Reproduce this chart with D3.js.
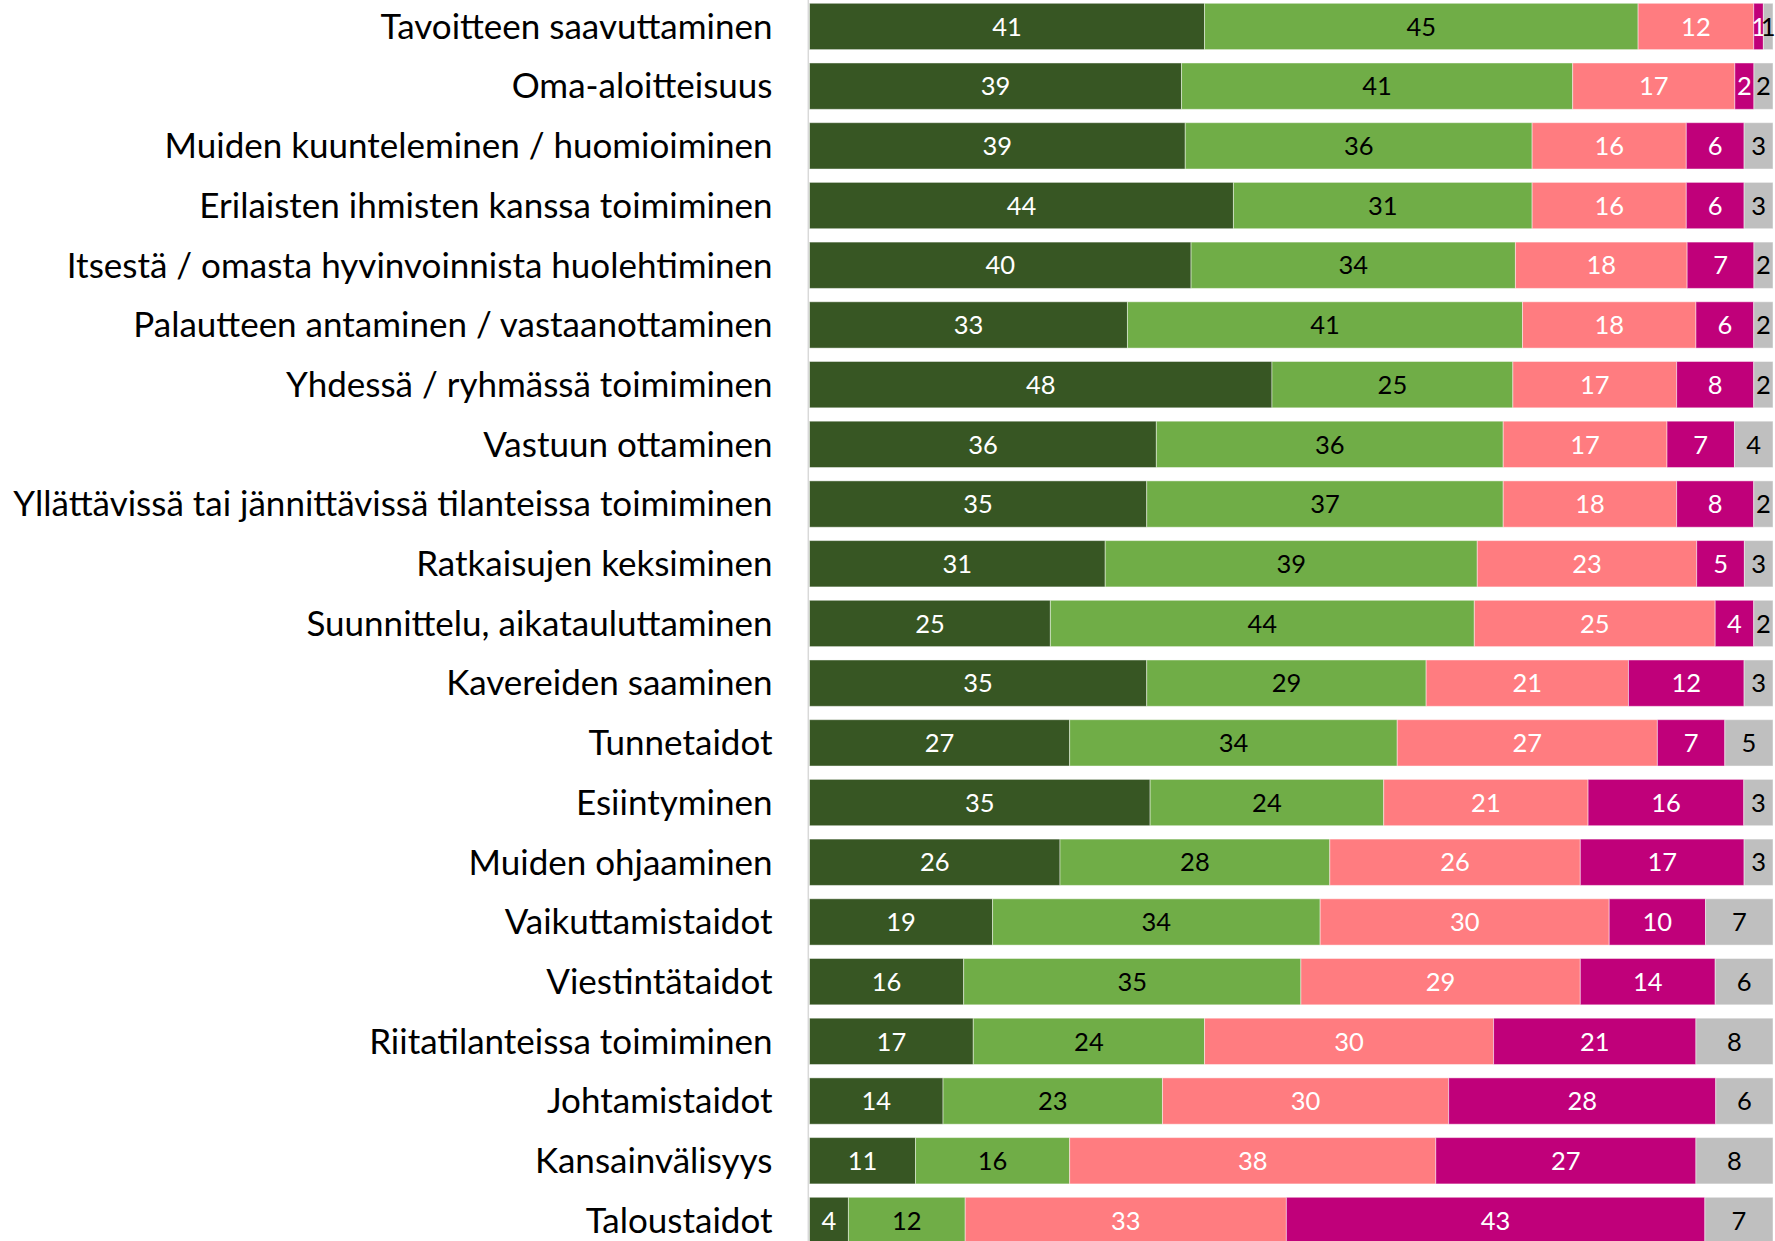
<!DOCTYPE html>
<html>
<head>
<meta charset="utf-8">
<script src="https://cdn.jsdelivr.net/npm/d3@7"></script>
<style>
  body { margin: 0; background: #fff; }
  text { font-family: Lato, "Open Sans", sans-serif; }
</style>
</head>
<body>
<script>
const categories = [
  "Tavoitteen saavuttaminen",
  "Oma-aloitteisuus",
  "Muiden kuunteleminen / huomioiminen",
  "Erilaisten ihmisten kanssa toimiminen",
  "Itsestä / omasta hyvinvoinnista huolehtiminen",
  "Palautteen antaminen / vastaanottaminen",
  "Yhdessä / ryhmässä toimiminen",
  "Vastuun ottaminen",
  "Yllättävissä tai jännittävissä tilanteissa toimiminen",
  "Ratkaisujen keksiminen",
  "Suunnittelu, aikatauluttaminen",
  "Kavereiden saaminen",
  "Tunnetaidot",
  "Esiintyminen",
  "Muiden ohjaaminen",
  "Vaikuttamistaidot",
  "Viestintätaidot",
  "Riitatilanteissa toimiminen",
  "Johtamistaidot",
  "Kansainvälisyys",
  "Taloustaidot"
]
const s1 = [41, 39, 39, 44, 40, 33, 48, 36, 35, 31, 25, 35, 27, 35, 26, 19, 16, 17, 14, 11, 4]
const s2 = [45, 41, 36, 31, 34, 41, 25, 36, 37, 39, 44, 29, 34, 24, 28, 34, 35, 24, 23, 16, 12]
const s3 = [12, 17, 16, 16, 18, 18, 17, 17, 18, 23, 25, 21, 27, 21, 26, 30, 29, 30, 30, 38, 33]
const s4 = [1, 2, 6, 6, 7, 6, 8, 7, 8, 5, 4, 12, 7, 16, 17, 10, 14, 21, 28, 27, 43]
const s5 = [1, 2, 3, 3, 2, 2, 2, 4, 2, 3, 2, 3, 5, 3, 3, 7, 6, 8, 6, 8, 7]

const keys = ['s1', 's2', 's3', 's4', 's5']
const fills = ['#375623', '#70ad47', '#ff7c80', '#c0007a', '#bfbfbf']
const textColors = ['#fff', '#000', '#fff', '#fff', '#000']

const table = categories.map((c, i) => ({cat: c, s1: s1[i], s2: s2[i], s3: s3[i], s4: s4[i], s5: s5[i]}))

const W = 1775, H = 1241

const svg = d3.select('body').append('svg')
  .attr('width', W)
  .attr('height', H)

const scaleX = d3.scaleLinear()
  .domain([0, 1])
  .range([809.5, 1773])

const scaleY = d3.scaleBand()
  .domain(categories)
  .range([-3.4, -3.4 + 21 * 59.7])
  .paddingInner(0.224)
  .paddingOuter(0.112)

const series = d3.stack().keys(keys).offset(d3.stackOffsetExpand)(table)

const groups = svg.append('g').selectAll('g')
  .data(series)
  .enter()
  .append('g')
  .attr('fill', (d, i) => fills[i])

groups.selectAll('rect')
  .data(d => d)
  .enter()
  .append('rect')
  .attr('x', d => scaleX(d[0]))
  .attr('y', d => scaleY(d.data.cat))
  .attr('width', d => scaleX(d[1]) - scaleX(d[0]))
  .attr('height', scaleY.bandwidth())
  .attr('stroke', 'rgba(255,255,255,0.45)')
  .attr('stroke-width', 1)

// value labels
series.forEach((s, i) => {
  svg.append('g').selectAll('text')
    .data(s)
    .enter()
    .append('text')
    .attr('x', d => (scaleX(d[0]) + scaleX(d[1])) / 2)
    .attr('y', d => scaleY(d.data.cat) + scaleY.bandwidth() / 2)
    .attr('dy', '0.36em')
    .attr('text-anchor', 'middle')
    .attr('font-size', 25.5)
    .attr('fill', textColors[i])
    .text(d => d.data[s.key])
})

// category axis
const axisY = d3.axisLeft(scaleY).tickSize(0).tickPadding(36)
const gy = svg.append('g').attr('transform', 'translate(808.5,0)').call(axisY)
gy.select('.domain').remove()
gy.selectAll('text')
  .attr('font-size', 35)
  .attr('font-family', 'Lato, sans-serif')
  .attr('fill', '#000')
  .attr('dy', '0.35em')

svg.append('line')
  .attr('x1', 808.3).attr('x2', 808.3)
  .attr('y1', 0).attr('y2', H)
  .attr('stroke', '#d9d9d9')
  .attr('stroke-width', 1.5)
</script>
</body>
</html>
